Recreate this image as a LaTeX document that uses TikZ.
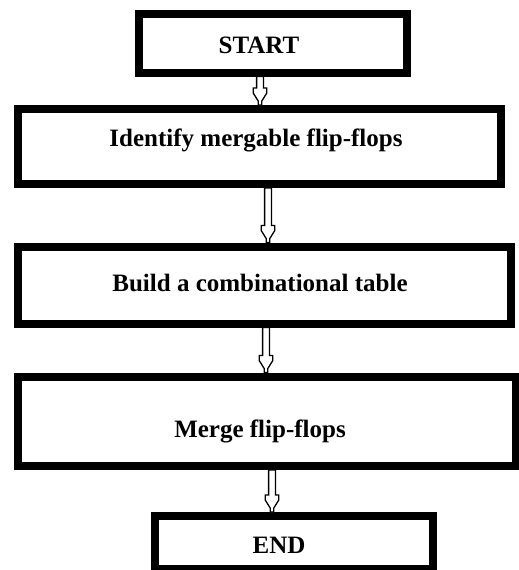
\documentclass[tikz,border=0pt]{standalone}
\usepackage{fontspec}
\setmainfont{Liberation Serif}
\usetikzlibrary{calc}
\tikzset{
  box/.style={draw, line width=8pt, rectangle, inner sep=0pt, outer sep=4pt},
  lbl/.style={anchor=base, inner sep=0pt, font=\fontsize{25}{30}\selectfont\bfseries},
  blockarrow/.style={draw, line width=1.3pt, fill=white, to path={
    let \p1=(\tikztostart), \p2=(\tikztotarget) in
    (\x1-3.4pt,\y1) -- (\x1-3.4pt,\y2+17pt) -- (\x1-6.8pt,\y2+17pt) -- (\x1-6.8pt,\y2+12pt)
    -- (\x1-1.8pt,\y2+4pt) -- (\x1-1.8pt,\y2) -- (\x1+1.8pt,\y2) -- (\x1+1.8pt,\y2+4pt)
    -- (\x1+6.8pt,\y2+12pt) -- (\x1+6.8pt,\y2+17pt) -- (\x1+3.4pt,\y2+17pt) -- (\x1+3.4pt,\y1) -- cycle}}
}
\begin{document}
\begin{tikzpicture}[x=1pt,y=1pt]
\useasboundingbox (0,0) rectangle (519,-570);
% boxes (stroke-centre sizes)
\node[box, minimum width=268pt, minimum height=59pt]   (b1) at (273,-43) {};
\node[box, minimum width=483.5pt, minimum height=75pt] (b2) at (259.25,-146.5) {};
\node[box, minimum width=493.5pt, minimum height=77pt] (b3) at (264.25,-285) {};
\node[box, minimum width=498.5pt, minimum height=89.5pt] (b4) at (266.75,-421.25) {};
\node[box, minimum width=278pt, minimum height=53pt]   (b5) at (294,-542.5) {};
% texts
\node[lbl] (t1) at (259,-53) {START};
\node[lbl] (t2) at (256,-146) {Identify mergable flip-flops};
\node[lbl] (t3) at (260,-291) {Build a combinational table};
\node[lbl] (t4) at (260,-437) {Merge flip-flops};
\node[lbl] (t5) at (279,-553) {END};
% arrows
\draw[blockarrow] ([xshift=-13pt]b1.south) to ([xshift=0.75pt]b2.north);
\draw[blockarrow] ([xshift=8.75pt]b2.south) to ([xshift=3.75pt]b3.north);
\draw[blockarrow] ([xshift=1.75pt]b3.south) to ([xshift=-0.75pt]b4.north);
\draw[blockarrow] ([xshift=5.25pt]b4.south) to ([xshift=-22pt]b5.north);
\end{tikzpicture}
\end{document}
